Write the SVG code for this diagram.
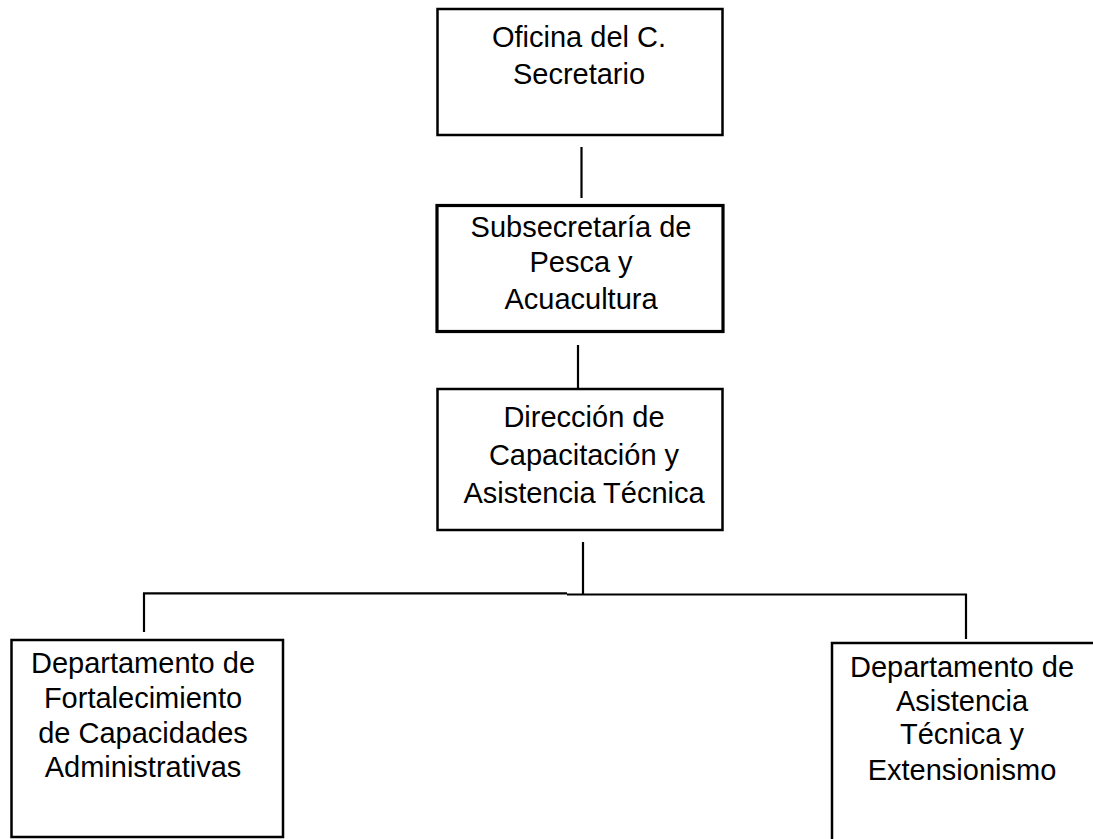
<svg xmlns="http://www.w3.org/2000/svg" width="1093" height="839" viewBox="0 0 1093 839">
<style>
.box{fill:#fff;stroke:#000;stroke-width:2.5}
.thick{stroke-width:3.2}
.t{font-family:"Liberation Sans",Arial,sans-serif;font-size:29px;fill:#000;text-anchor:middle}
.c{stroke:#000;stroke-width:2.2;fill:none}
</style>
<rect width="1093" height="839" fill="#fff"/>
<g id="connectors">
<line class="c" x1="581.5" y1="147" x2="581.5" y2="198"/>
<line class="c" x1="578" y1="345" x2="578" y2="388"/>
<line class="c" x1="583" y1="542" x2="583" y2="595"/>
<line class="c" x1="143" y1="593.3" x2="567" y2="593.3"/>
<line class="c" x1="567" y1="594.5" x2="967" y2="594.5"/>
<line class="c" x1="144" y1="593" x2="144" y2="632"/>
<line class="c" x1="966" y1="594" x2="966" y2="639"/>
</g>
<g id="n1">
<rect class="box" x="437.5" y="9" width="285" height="126"/>
<text class="t" x="579" y="47">Oficina del C.</text>
<text class="t" x="579" y="84">Secretario</text>
</g>
<g id="n2">
<rect class="box thick" x="437" y="205.5" width="286" height="126"/>
<text class="t" x="581" y="237">Subsecretaría de</text>
<text class="t" x="581" y="272">Pesca y</text>
<text class="t" x="581" y="309">Acuacultura</text>
</g>
<g id="n3">
<rect class="box" x="437.5" y="389" width="285" height="141"/>
<text class="t" x="584" y="427">Dirección de</text>
<text class="t" x="584" y="465">Capacitación y</text>
<text class="t" x="584" y="503">Asistencia Técnica</text>
</g>
<g id="n4">
<rect class="box" x="11.5" y="640" width="271.5" height="197"/>
<text class="t" x="143" y="673">Departamento de</text>
<text class="t" x="143" y="708">Fortalecimiento</text>
<text class="t" x="143" y="743">de Capacidades</text>
<text class="t" x="143" y="777">Administrativas</text>
</g>
<g id="n5">
<rect class="box" x="832" y="643" width="280" height="210"/>
<text class="t" x="962" y="677">Departamento de</text>
<text class="t" x="962" y="711">Asistencia</text>
<text class="t" x="962" y="744">Técnica y</text>
<text class="t" x="962" y="780">Extensionismo</text>
</g>
</svg>
